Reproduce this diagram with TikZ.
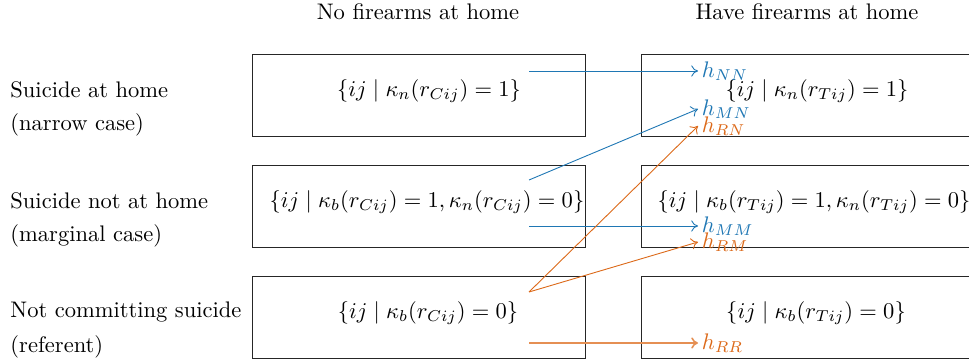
\documentclass[tikz,border=0pt]{standalone}
\usetikzlibrary{arrows.meta}
\definecolor{hblue}{RGB}{31,119,180}
\definecolor{horange}{RGB}{220,105,25}
\begin{document}
\begin{tikzpicture}[x=0.4440pt,y=-0.4440pt,
  setbox/.style={draw=black!85,line width=0.5pt,minimum width=333*0.4440pt,minimum height=82*0.4440pt,inner sep=0pt,anchor=north west},
  settext/.style={inner sep=0pt},
  rowlab/.style={anchor=west,inner sep=0pt},
  hlab/.style={anchor=west,inner sep=1.5pt},
  harrow/.style={-{To[length=3pt,width=5pt]},line width=0.4pt}]
\useasboundingbox (0,0) rectangle (969,364);
% headers
\node[settext] (hno) at (418,12) {No firearms at home};
\node[settext] (hhave) at (807,12) {Have firearms at home};
% row labels
\node[rowlab] (r1a) at (10,90) {Suicide at home};
\node[rowlab] (r1b) at (10,125) {(narrow case)};
\node[rowlab] (r2a) at (10,201) {Suicide not at home};
\node[rowlab] (r2b) at (10,236) {(marginal case)};
\node[rowlab] (r3a) at (10,312) {Not committing suicide};
\node[rowlab] (r3b) at (10,347) {(referent)};
% boxes
\node[setbox] (c1) at (252,54) {};
\node[setbox] (c2) at (252,165) {};
\node[setbox] (c3) at (252,276) {};
\node[setbox] (t1) at (641,54) {};
\node[setbox] (t2) at (641,165) {};
\node[setbox] (t3) at (641,276) {};
% box texts
\node[settext] (c1t) at (429,91) {$\{ij \mid \kappa_n(r_{Cij}) = 1\}$};
\node[settext] (c2t) at (427,202) {$\{ij \mid \kappa_b(r_{Cij}) = 1, \kappa_n(r_{Cij}) = 0\}$};
\node[settext] (c3t) at (428,313) {$\{ij \mid \kappa_b(r_{Cij}) = 0\}$};
\node[settext] (t1t) at (817,91) {$\{ij \mid \kappa_n(r_{Tij}) = 1\}$};
\node[settext] (t2t) at (814,202) {$\{ij \mid \kappa_b(r_{Tij}) = 1, \kappa_n(r_{Tij}) = 0\}$};
\node[settext] (t3t) at (816,313) {$\{ij \mid \kappa_b(r_{Tij}) = 0\}$};
% outcome labels
\node[hlab,text=hblue] (hNN) at (698,71) {$h_{NN}$};
\node[hlab,text=hblue] (hMN) at (698,109) {$h_{MN}$};
\node[hlab,text=horange] (hRN) at (698,126) {$h_{RN}$};
\node[hlab,text=hblue] (hMM) at (698,226) {$h_{MM}$};
\node[hlab,text=horange] (hRM) at (698,242) {$h_{RM}$};
\node[hlab,text=horange] (hRR) at (698,343) {$h_{RR}$};
% start points
\coordinate (sNN) at (529,71);
\coordinate (sMN) at (529,180);
\coordinate (sMM) at (529,226);
\coordinate (sR) at (529,292);
\coordinate (sRR) at (529,343);
% arrows
\draw[harrow,hblue] (sNN) -- (hNN.west);
\draw[harrow,hblue] (sMN) -- (hMN.west);
\draw[harrow,hblue] (sMM) -- (hMM.west);
\draw[harrow,horange] (sR) -- (hRN.west);
\draw[harrow,horange] (sR) -- (hRM.west);
\draw[harrow,horange!75,line width=0.7pt] (sRR) -- (hRR.west);
\end{tikzpicture}
\end{document}
